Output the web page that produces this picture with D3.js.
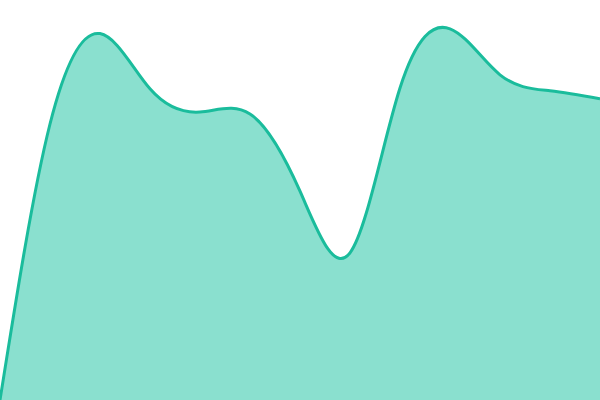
<!DOCTYPE html>
<html>
<head>
<meta charset="utf-8">
<script src="https://cdn.jsdelivr.net/npm/d3@7"></script>
<style>
  body { margin: 0; background: #fff; }
  svg { display: block; }
</style>
</head>
<body>
<div id="chart"></div>
<script>
// data
let steps = [0, 1, 2, 3, 4, 5, 6, 7, 8, 9, 10, 11, 12];
let values = [0, 69.0, 91.6, 77.8, 72.0, 71.5, 52.2, 36.8, 78.0, 92.8, 81.3, 77.3, 75.3];

let width = 600;
let height = 400;

let svg = d3.select("#chart")
    .append("svg")
    .attr("width", width)
    .attr("height", height);

let xScale = d3.scaleLinear()
    .domain([0, steps.length - 1])
    .range([0, width]);

let yScale = d3.scaleLinear()
    .domain([0, 100])
    .range([height, 0]);

let points = steps.map((s, i) => ({ step: s, value: values[i] }));

let area = d3.area()
    .x(d => xScale(d.step))
    .y0(height)
    .y1(d => yScale(d.value))
    .curve(d3.curveNatural);

let line = d3.line()
    .x(d => xScale(d.step))
    .y(d => yScale(d.value))
    .curve(d3.curveNatural);

svg.append("path")
    .datum(points)
    .attr("d", area)
    .attr("fill", "#8ae0cf");

svg.append("path")
    .datum(points)
    .attr("d", line)
    .attr("fill", "none")
    .attr("stroke", "#1abc9c")
    .attr("stroke-width", 3);
</script>
</body>
</html>
